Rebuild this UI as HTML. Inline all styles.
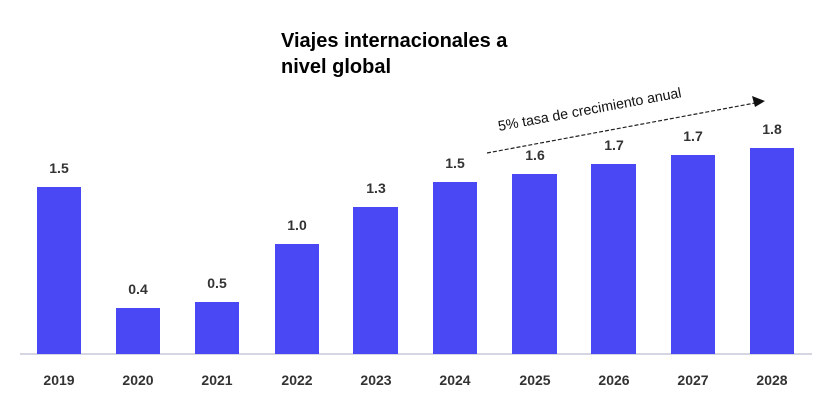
<!DOCTYPE html>
<html><head><meta charset="utf-8"><style>
body{margin:0;background:#fff;}
svg{display:block;}
</style></head><body>
<svg width="825" height="408" xmlns="http://www.w3.org/2000/svg" font-family="Liberation Sans, sans-serif">
<text x="281" y="47" font-size="20" font-weight="bold" fill="#000">Viajes internacionales a</text>
<text x="281" y="73" font-size="20" font-weight="bold" fill="#000">nivel global</text>
<line x1="20" y1="354" x2="812" y2="354" stroke="#c8c8d8" stroke-width="1.5"/>
<g fill="#4a48f5">
<rect x="37" y="187" width="44" height="167"/>
<rect x="116" y="308" width="44" height="46"/>
<rect x="195" y="302" width="44" height="52"/>
<rect x="275" y="244" width="44" height="110"/>
<rect x="353" y="207" width="45" height="147"/>
<rect x="433" y="182" width="44" height="172"/>
<rect x="512" y="174" width="45" height="180"/>
<rect x="591" y="164" width="45" height="190"/>
<rect x="671" y="155" width="44" height="199"/>
<rect x="750" y="148" width="44" height="206"/>
</g>
<g font-size="14" font-weight="bold" fill="#333" text-anchor="middle">
<text x="59" y="173">1.5</text>
<text x="138" y="294">0.4</text>
<text x="217" y="288">0.5</text>
<text x="297" y="230">1.0</text>
<text x="376" y="193">1.3</text>
<text x="455" y="168">1.5</text>
<text x="535" y="160">1.6</text>
<text x="614" y="150">1.7</text>
<text x="693" y="141">1.7</text>
<text x="772" y="134">1.8</text>
</g>
<g font-size="14" font-weight="bold" fill="#333" text-anchor="middle">
<text x="59" y="385">2019</text>
<text x="138" y="385">2020</text>
<text x="217" y="385">2021</text>
<text x="297" y="385">2022</text>
<text x="376" y="385">2023</text>
<text x="455" y="385">2024</text>
<text x="535" y="385">2025</text>
<text x="614" y="385">2026</text>
<text x="693" y="385">2027</text>
<text x="772" y="385">2028</text>
</g>
<line x1="487" y1="153" x2="755" y2="103" stroke="#222" stroke-width="1.2" stroke-dasharray="4,2"/>
<polygon points="765,101 752,96 755,107" fill="#111"/>
<text x="0" y="0" font-size="14.2" fill="#111" transform="translate(499,131) rotate(-10.5)">5% tasa de crecimiento anual</text>
</svg>
</body></html>
